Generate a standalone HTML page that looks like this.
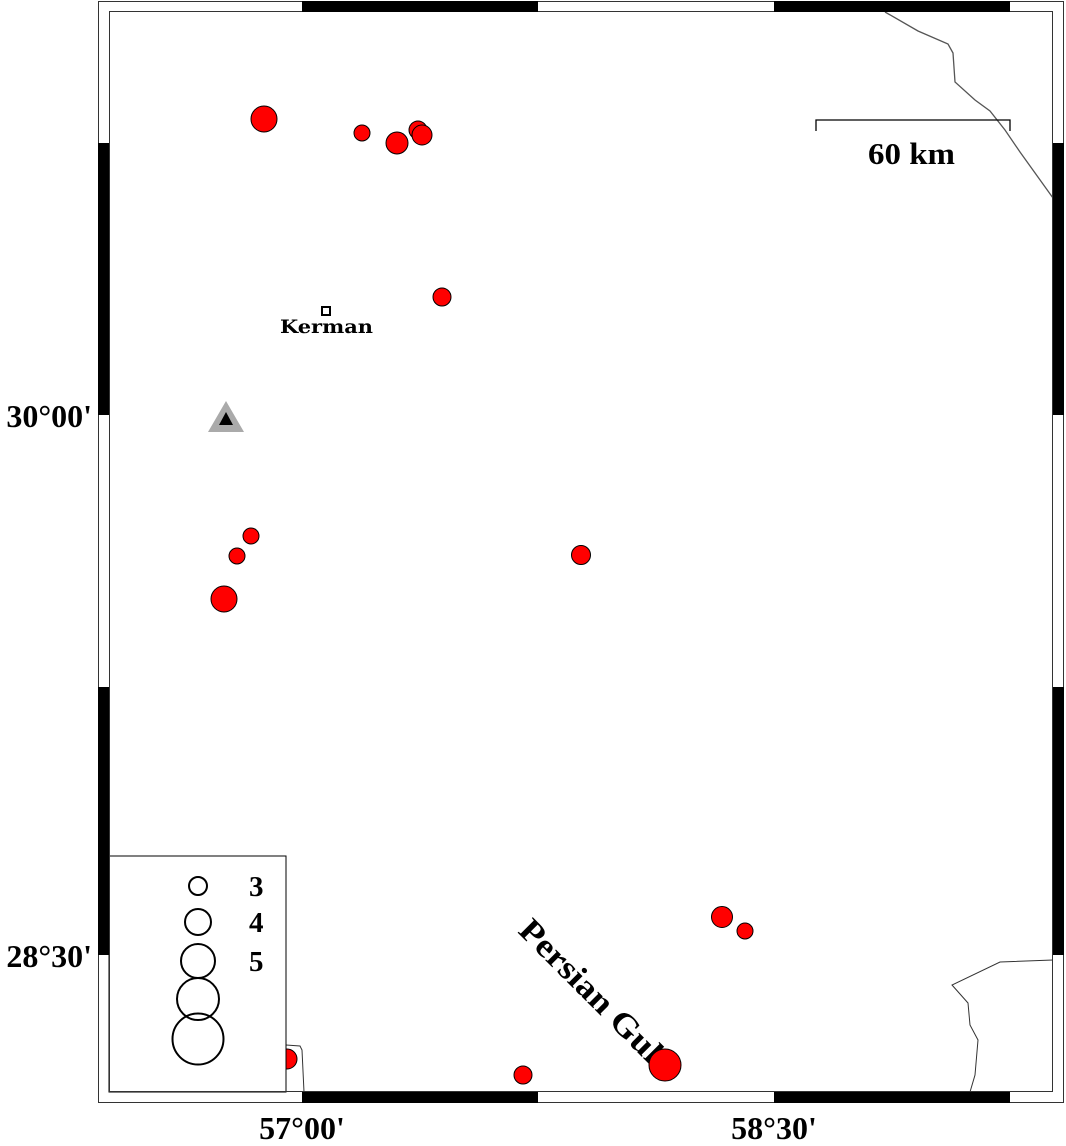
<!DOCTYPE html>
<html><head><meta charset="utf-8"><style>html,body{margin:0;padding:0;background:#fff} text{font-family:"Liberation Serif",serif;font-weight:bold}</style></head>
<body>
<svg width="1066" height="1141" viewBox="0 0 1066 1141" xmlns="http://www.w3.org/2000/svg">
<rect width="1066" height="1141" fill="#fff"/>
<polyline points="885,12 918,31 948,44 953,53 955,82 975,100 990,111 1005,130 1020,152 1053,198" fill="none" stroke="#555" stroke-width="1.3"/>
<polyline points="1053,960 1000,962 952,985 968,1003 970,1025 978,1040 975,1075 970,1092" fill="none" stroke="#333" stroke-width="1"/>
<polyline points="286,1045 300,1046 302,1050 304,1092" fill="none" stroke="#333" stroke-width="1"/>
<polyline points="816,131 816,120 1010,120 1010,131" fill="none" stroke="#000" stroke-width="1.3"/>
<text x="868" y="164" font-size="31" textLength="87" lengthAdjust="spacingAndGlyphs">60 km</text>
<text x="517" y="932" font-size="33" transform="rotate(45 517 932)" textLength="200" lengthAdjust="spacingAndGlyphs">Persian Gulf</text>
<g fill="#f00" stroke="#000" stroke-width="1">
<circle cx="264" cy="119" r="13"/>
<circle cx="362" cy="133" r="8"/>
<circle cx="418" cy="130" r="9"/>
<circle cx="397" cy="143" r="11"/>
<circle cx="422" cy="135" r="10"/>
<circle cx="442" cy="297" r="9"/>
<circle cx="251" cy="536" r="8"/>
<circle cx="237" cy="556" r="8"/>
<circle cx="224" cy="599" r="13"/>
<circle cx="581" cy="555" r="9.5"/>
<circle cx="722" cy="917" r="10.5"/>
<circle cx="745" cy="931" r="8"/>
<circle cx="665" cy="1065" r="16"/>
<circle cx="523" cy="1075" r="9"/>
<circle cx="287" cy="1059" r="10"/>
</g>
<rect x="322" y="307" width="8" height="8" fill="#fff" stroke="#000" stroke-width="2"/>
<text x="280" y="333" font-size="19" textLength="93" lengthAdjust="spacingAndGlyphs" style="font-family:'DejaVu Serif',serif">Kerman</text>
<polygon points="226,401 244,432 208,432" fill="#aaa"/>
<polygon points="226,412 233,425 219,425" fill="#000"/>
<rect x="109" y="856" width="177" height="236" fill="#fff" stroke="#000" stroke-width="1"/>
<g fill="none" stroke="#000" stroke-width="2">
<circle cx="198" cy="886" r="9"/>
<circle cx="198" cy="922" r="13"/>
<circle cx="198" cy="961" r="17"/>
<circle cx="198" cy="999" r="21"/>
<circle cx="198" cy="1039" r="25.5"/>
</g>
<g font-size="29"><text x="249" y="896">3</text><text x="249" y="932">4</text><text x="249" y="971">5</text></g>
<g fill="none" stroke="#333" stroke-width="1">
<rect x="98.5" y="1.5" width="965" height="1101"/>
<rect x="109.5" y="11.5" width="943" height="1080"/>
</g>
<g fill="#000">
<rect x="302" y="1" width="236" height="11"/><rect x="774" y="1" width="236" height="11"/>
<rect x="302" y="1092" width="236" height="11"/><rect x="774" y="1092" width="236" height="11"/>
<rect x="98" y="143" width="11" height="272"/><rect x="98" y="687" width="11" height="268"/>
<rect x="1053" y="143" width="11" height="272"/><rect x="1053" y="687" width="11" height="268"/>
</g>
<g font-size="32">
<text x="302" y="1139" text-anchor="middle">57°00'</text>
<text x="774" y="1139" text-anchor="middle">58°30'</text>
<text x="92" y="427" text-anchor="end">30°00'</text>
<text x="92" y="967" text-anchor="end">28°30'</text>
</g>
</svg>
</body></html>
